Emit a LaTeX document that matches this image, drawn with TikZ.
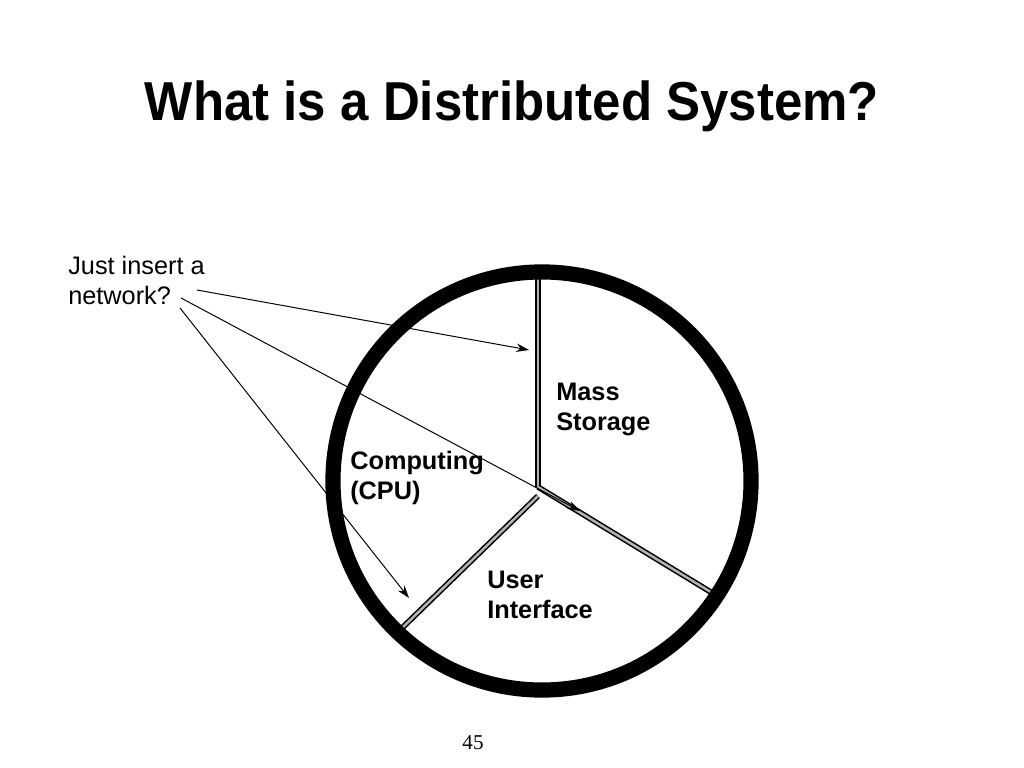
\documentclass[tikz,border=0pt]{standalone}
\usepackage{fontspec}
\setmainfont{Liberation Serif}
\setsansfont{Liberation Sans}
\usetikzlibrary{arrows.meta}

\begin{document}
\begin{tikzpicture}[x=0.025cm,y=-0.025cm,
	divider/.style={draw=black,double=gray!60,line width=1.1pt,double distance=1.8pt},
	pointer/.style={line width=0.7pt,-{Stealth[length=9pt,width=6pt]}},
	partname/.style={font=\sffamily\bfseries\fontsize{18}{21.5}\selectfont,align=left,anchor=north west,inner sep=0pt}]
	
	% Seitenrahmen
	\fill[white] (0,0) rectangle (1024,768);
	\useasboundingbox (0,0) rectangle (1024,768);
	
	% Titel
	\node[font=\sffamily\bfseries\fontsize{39}{45}\selectfont,xscale=0.93] (title) at (512,106) {What is a Distributed System?};
	
	% Trennlinien im Kreis
	\coordinate (hub) at (538,487);
	\coordinate (rimtop) at (538,272);
	\coordinate (rimright) at (714,594);
	\coordinate (rimleft) at (401,629);
	\coordinate (hubleft) at (538,496);
	\draw[divider] (hub) -- (rimtop);
	\draw[divider] (hub) -- (rimright);
	\draw[divider] (hubleft) -- (rimleft);
	
	% Kreis
	\draw[line width=10.8pt] (542,481) circle (5.225cm);
	
	% Beschriftung der Teile
	\node[partname] (storage) at (556,383) {Mass\\Storage};
	\node[partname] (cpu) at (350,451) {Computing\\(CPU)};
	\node[partname] (ui) at (487,571) {User\\Interface};
	
	% Frage mit Pfeilen
	\node[font=\sffamily\fontsize{18}{21.5}\selectfont,align=left,anchor=north west,inner sep=0pt] (question) at (68,256) {Just insert a\\network?};
	\coordinate (from1) at (197,290);
	\coordinate (from2) at (181,298);
	\coordinate (from3) at (180,308);
	\coordinate (to1) at (529,350);
	\coordinate (to2) at (580,511);
	\coordinate (to3) at (409,598);
	\draw[pointer] (from1) -- (to1);
	\draw[pointer] (from2) -- (to2);
	\draw[pointer] (from3) -- (to3);
	
	% Seitenzahl
	\node[font=\fontsize{15}{18}\selectfont] (pageno) at (473,743) {45};
\end{tikzpicture}
\end{document}
